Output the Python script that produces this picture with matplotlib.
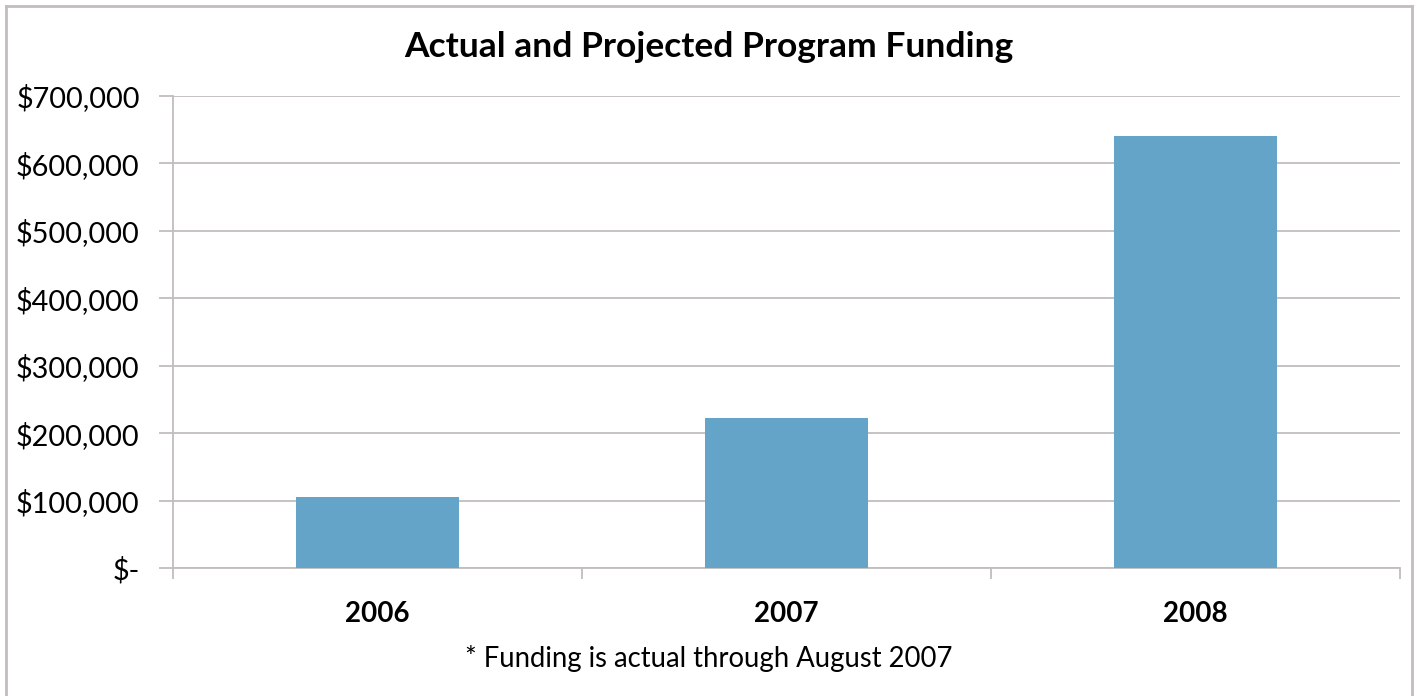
import matplotlib
matplotlib.use("Agg")
import matplotlib.pyplot as plt
from matplotlib.ticker import FuncFormatter
from matplotlib.lines import Line2D

# Data
years = ["2006", "2007", "2008"]
funding = [105000, 222000, 640000]

plt.rcParams['font.family'] = ['Lato', 'DejaVu Sans']

bar_color = "#64A4C8"
grid_color = "#C3BDBD"

fig = plt.figure(figsize=(14.17, 6.96), dpi=100)
ax = fig.add_axes([173 / 1417, 1 - 568 / 696, (1400 - 173) / 1417, (568 - 96) / 696])

x = range(len(years))
ax.bar(x, funding, width=0.4, color=bar_color, zorder=3)

ax.set_xlim(-0.5, len(years) - 0.5)
ax.set_ylim(0, 700000)
ax.set_yticks(range(0, 700001, 100000))

def money(v, pos):
    if v == 0:
        return "$-"
    return "${:,.0f}".format(v)

ax.yaxis.set_major_formatter(FuncFormatter(money))
ax.grid(axis='y', color=grid_color, linewidth=1.3, zorder=0)

# category labels between boundary ticks
ax.set_xticks([i - 0.5 for i in range(len(years) + 1)])
ax.set_xticklabels([])
ax.set_xticks(list(x), minor=True)
ax.set_xticklabels(years, minor=True, fontsize=20, fontweight='bold')
ax.tick_params(axis='x', which='minor', length=0, pad=24)
ax.tick_params(axis='x', which='major', length=8, width=1.3, color=grid_color)
ax.tick_params(axis='y', length=10, width=1.3, color=grid_color, labelsize=20.8, pad=14)

for side in ['top', 'right']:
    ax.spines[side].set_visible(False)
for side in ['left', 'bottom']:
    ax.spines[side].set_color(grid_color)
    ax.spines[side].set_linewidth(1.3)

fig.text(0.5, 1 - 47 / 696, "Actual and Projected Program Funding",
         ha='center', va='center', fontsize=25.5, fontweight='bold')
fig.text(0.5, 1 - 658 / 696, "* Funding is actual through August 2007",
         ha='center', va='center', fontsize=19.8)

# chart frame
fc = "#C3BDBD"
x0, x1, y0 = 6 / 1417, 1412 / 1417, 1 - 6 / 696
fig.add_artist(Line2D([x0, x1], [y0, y0], transform=fig.transFigure, color=fc, lw=2))
fig.add_artist(Line2D([x0, x0], [y0, 0], transform=fig.transFigure, color=fc, lw=2))
fig.add_artist(Line2D([x1, x1], [y0, 0], transform=fig.transFigure, color=fc, lw=2))

fig.savefig("out.png", dpi=100)
